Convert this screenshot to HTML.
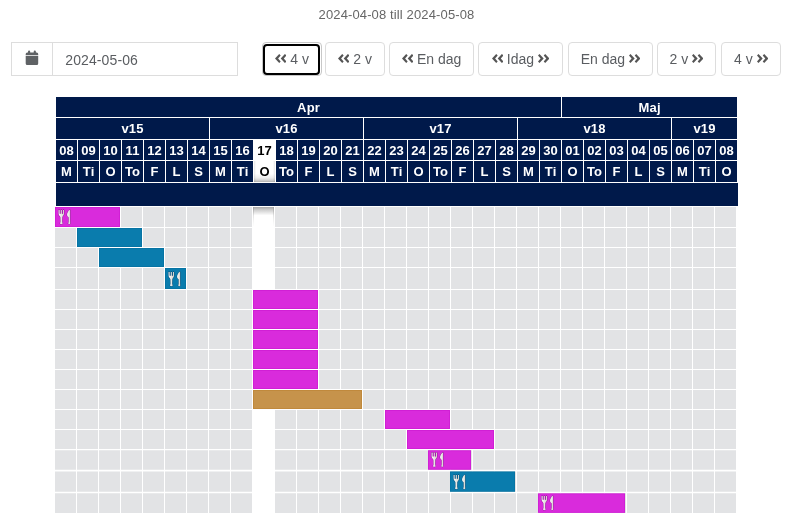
<!DOCTYPE html>
<html lang="sv"><head><meta charset="utf-8"><title>Kalender</title>
<style>
html,body{margin:0;padding:0;background:#fff;}
body{width:793px;height:528px;position:relative;overflow:hidden;font-family:"Liberation Sans",sans-serif;color:#555;}
.abs{position:absolute;}
#title{position:absolute;left:0;top:7px;width:793px;text-align:center;font-size:13px;line-height:16px;color:#666;letter-spacing:0.13px;}
.ig{position:absolute;left:11px;top:42px;width:227px;height:34px;box-sizing:border-box;border:1px solid #ddd;background:#fff;}
.ig .addon{position:absolute;left:0;top:0;width:40px;height:32px;border-right:1px solid #ddd;}
.ig .val{position:absolute;left:53.300px;top:1px;height:32px;line-height:32px;font-size:14px;color:#5a5d61;letter-spacing:0.1px;}
.btn{position:absolute;top:42px;height:34px;box-sizing:border-box;border:1px solid #ddd;border-radius:4px;background:#fff;font-size:14px;color:#5a5d61;line-height:32px;text-align:center;white-space:nowrap;}
.btn svg{display:inline-block;vertical-align:1px;}
.btn.focus{border-color:#c8c8c8;}
.btn.focus:after{content:"";position:absolute;left:0;top:0.500px;right:1px;bottom:0.500px;border:2px solid #000;border-radius:4px;}
.h{position:absolute;background:#00194a;color:#fff;font-weight:bold;font-size:13px;text-align:center;letter-spacing:0.200px;text-indent:0.200px;}
.h.today{background:#fff;color:#000;}
#body{position:absolute;left:0;top:200px;}

</style></head><body>
<div id="title">2024-04-08 till 2024-05-08</div>
<div class="ig"><div class="addon"><svg class="abs" style="left:13px;top:7px" width="14" height="16" viewBox="0 0 14 16"><path fill="#5f6265" d="M2.200 2.400 H3 V1.700 A1.100 1.100 0 0 1 5.200 1.700 V2.400 H8.700 V1.700 A1.100 1.100 0 0 1 10.900 1.700 V2.400 H11.700 A1.500 1.500 0 0 1 13.200 3.900 V5.100 H0.700 V3.900 A1.500 1.500 0 0 1 2.200 2.400 Z M0.700 5.800 H13.200 V13.400 A1.500 1.500 0 0 1 11.700 14.900 H2.200 A1.500 1.500 0 0 1 0.700 13.400 Z"/></svg></div><div class="val">2024-05-06</div></div>
<div class="btn focus" style="left:262px;width:60px"><svg width="11.400" height="9" viewBox="0 0 11.400 9"><path fill="#555" d="M0 4.500 L4.200 0 L5.700 1.500 L3.100 4.500 L5.700 7.500 L4.200 9 Z"/><path fill="#555" transform="translate(5.700 0)" d="M0 4.500 L4.200 0 L5.700 1.500 L3.100 4.500 L5.700 7.500 L4.200 9 Z"/></svg> 4 v</div>
<div class="btn" style="left:325px;width:60px"><svg width="11.400" height="9" viewBox="0 0 11.400 9"><path fill="#555" d="M0 4.500 L4.200 0 L5.700 1.500 L3.100 4.500 L5.700 7.500 L4.200 9 Z"/><path fill="#555" transform="translate(5.700 0)" d="M0 4.500 L4.200 0 L5.700 1.500 L3.100 4.500 L5.700 7.500 L4.200 9 Z"/></svg> 2 v</div>
<div class="btn" style="left:389px;width:85px"><svg width="11.400" height="9" viewBox="0 0 11.400 9"><path fill="#555" d="M0 4.500 L4.200 0 L5.700 1.500 L3.100 4.500 L5.700 7.500 L4.200 9 Z"/><path fill="#555" transform="translate(5.700 0)" d="M0 4.500 L4.200 0 L5.700 1.500 L3.100 4.500 L5.700 7.500 L4.200 9 Z"/></svg> En dag</div>
<div class="btn" style="left:478px;width:85px"><svg width="11.400" height="9" viewBox="0 0 11.400 9"><path fill="#555" d="M0 4.500 L4.200 0 L5.700 1.500 L3.100 4.500 L5.700 7.500 L4.200 9 Z"/><path fill="#555" transform="translate(5.700 0)" d="M0 4.500 L4.200 0 L5.700 1.500 L3.100 4.500 L5.700 7.500 L4.200 9 Z"/></svg> Idag <svg width="11.400" height="9" viewBox="0 0 11.400 9"><g transform="translate(11.400 0) scale(-1 1)"><path fill="#555" d="M0 4.500 L4.200 0 L5.700 1.500 L3.100 4.500 L5.700 7.500 L4.200 9 Z"/><path fill="#555" transform="translate(5.700 0)" d="M0 4.500 L4.200 0 L5.700 1.500 L3.100 4.500 L5.700 7.500 L4.200 9 Z"/></g></svg></div>
<div class="btn" style="left:568px;width:85px">En dag <svg width="11.400" height="9" viewBox="0 0 11.400 9"><g transform="translate(11.400 0) scale(-1 1)"><path fill="#555" d="M0 4.500 L4.200 0 L5.700 1.500 L3.100 4.500 L5.700 7.500 L4.200 9 Z"/><path fill="#555" transform="translate(5.700 0)" d="M0 4.500 L4.200 0 L5.700 1.500 L3.100 4.500 L5.700 7.500 L4.200 9 Z"/></g></svg></div>
<div class="btn" style="left:657px;width:59px">2 v <svg width="11.400" height="9" viewBox="0 0 11.400 9"><g transform="translate(11.400 0) scale(-1 1)"><path fill="#555" d="M0 4.500 L4.200 0 L5.700 1.500 L3.100 4.500 L5.700 7.500 L4.200 9 Z"/><path fill="#555" transform="translate(5.700 0)" d="M0 4.500 L4.200 0 L5.700 1.500 L3.100 4.500 L5.700 7.500 L4.200 9 Z"/></g></svg></div>
<div class="btn" style="left:721px;width:60px">4 v <svg width="11.400" height="9" viewBox="0 0 11.400 9"><g transform="translate(11.400 0) scale(-1 1)"><path fill="#555" d="M0 4.500 L4.200 0 L5.700 1.500 L3.100 4.500 L5.700 7.500 L4.200 9 Z"/><path fill="#555" transform="translate(5.700 0)" d="M0 4.500 L4.200 0 L5.700 1.500 L3.100 4.500 L5.700 7.500 L4.200 9 Z"/></g></svg></div>
<div class="h" style="left:56px;top:97px;width:505px;height:20px;line-height:22px">Apr</div>
<div class="h" style="left:562px;top:97px;width:175px;height:20px;line-height:22px">Maj</div>
<div class="h" style="left:56px;top:118px;width:153px;height:21px;line-height:21px">v15</div>
<div class="h" style="left:210px;top:118px;width:153px;height:21px;line-height:21px">v16</div>
<div class="h" style="left:364px;top:118px;width:153px;height:21px;line-height:21px">v17</div>
<div class="h" style="left:518px;top:118px;width:153px;height:21px;line-height:21px">v18</div>
<div class="h" style="left:672px;top:118px;width:65px;height:21px;line-height:21px">v19</div>
<div class="h" style="left:56px;top:140px;width:21px;height:20px;line-height:22px">08</div>
<div class="h" style="left:56px;top:161px;width:21px;height:21px;line-height:21px">M</div>
<div class="h" style="left:78px;top:140px;width:21px;height:20px;line-height:22px">09</div>
<div class="h" style="left:78px;top:161px;width:21px;height:21px;line-height:21px">Ti</div>
<div class="h" style="left:100px;top:140px;width:21px;height:20px;line-height:22px">10</div>
<div class="h" style="left:100px;top:161px;width:21px;height:21px;line-height:21px">O</div>
<div class="h" style="left:122px;top:140px;width:21px;height:20px;line-height:22px">11</div>
<div class="h" style="left:122px;top:161px;width:21px;height:21px;line-height:21px">To</div>
<div class="h" style="left:144px;top:140px;width:21px;height:20px;line-height:22px">12</div>
<div class="h" style="left:144px;top:161px;width:21px;height:21px;line-height:21px">F</div>
<div class="h" style="left:166px;top:140px;width:21px;height:20px;line-height:22px">13</div>
<div class="h" style="left:166px;top:161px;width:21px;height:21px;line-height:21px">L</div>
<div class="h" style="left:188px;top:140px;width:21px;height:20px;line-height:22px">14</div>
<div class="h" style="left:188px;top:161px;width:21px;height:21px;line-height:21px">S</div>
<div class="h" style="left:210px;top:140px;width:21px;height:20px;line-height:22px">15</div>
<div class="h" style="left:210px;top:161px;width:21px;height:21px;line-height:21px">M</div>
<div class="h" style="left:232px;top:140px;width:21px;height:20px;line-height:22px">16</div>
<div class="h" style="left:232px;top:161px;width:21px;height:21px;line-height:21px">Ti</div>
<div class="h today" style="left:253px;top:139px;width:23px;height:22px;line-height:24px">17</div>
<div class="h today" style="left:253px;top:161px;width:23px;height:21px;line-height:21px;background:linear-gradient(to right,rgba(0,0,0,0.100) 0,rgba(0,0,0,0) 2px,rgba(0,0,0,0) 19px,rgba(0,0,0,0.100) 21px) 1px 0/21px 100% no-repeat,linear-gradient(to bottom,#fff 0,#fff 60%,#ededed 80%,#d0d0d0 92%,#b0b0b0 100%)">O</div>
<div class="abs" style="left:253px;top:161px;width:1px;height:21px;background:#fff"></div><div class="abs" style="left:275px;top:161px;width:1px;height:21px;background:#fff"></div>
<div class="h" style="left:276px;top:140px;width:21px;height:20px;line-height:22px">18</div>
<div class="h" style="left:276px;top:161px;width:21px;height:21px;line-height:21px">To</div>
<div class="h" style="left:298px;top:140px;width:21px;height:20px;line-height:22px">19</div>
<div class="h" style="left:298px;top:161px;width:21px;height:21px;line-height:21px">F</div>
<div class="h" style="left:320px;top:140px;width:21px;height:20px;line-height:22px">20</div>
<div class="h" style="left:320px;top:161px;width:21px;height:21px;line-height:21px">L</div>
<div class="h" style="left:342px;top:140px;width:21px;height:20px;line-height:22px">21</div>
<div class="h" style="left:342px;top:161px;width:21px;height:21px;line-height:21px">S</div>
<div class="h" style="left:364px;top:140px;width:21px;height:20px;line-height:22px">22</div>
<div class="h" style="left:364px;top:161px;width:21px;height:21px;line-height:21px">M</div>
<div class="h" style="left:386px;top:140px;width:21px;height:20px;line-height:22px">23</div>
<div class="h" style="left:386px;top:161px;width:21px;height:21px;line-height:21px">Ti</div>
<div class="h" style="left:408px;top:140px;width:21px;height:20px;line-height:22px">24</div>
<div class="h" style="left:408px;top:161px;width:21px;height:21px;line-height:21px">O</div>
<div class="h" style="left:430px;top:140px;width:21px;height:20px;line-height:22px">25</div>
<div class="h" style="left:430px;top:161px;width:21px;height:21px;line-height:21px">To</div>
<div class="h" style="left:452px;top:140px;width:21px;height:20px;line-height:22px">26</div>
<div class="h" style="left:452px;top:161px;width:21px;height:21px;line-height:21px">F</div>
<div class="h" style="left:474px;top:140px;width:21px;height:20px;line-height:22px">27</div>
<div class="h" style="left:474px;top:161px;width:21px;height:21px;line-height:21px">L</div>
<div class="h" style="left:496px;top:140px;width:21px;height:20px;line-height:22px">28</div>
<div class="h" style="left:496px;top:161px;width:21px;height:21px;line-height:21px">S</div>
<div class="h" style="left:518px;top:140px;width:21px;height:20px;line-height:22px">29</div>
<div class="h" style="left:518px;top:161px;width:21px;height:21px;line-height:21px">M</div>
<div class="h" style="left:540px;top:140px;width:21px;height:20px;line-height:22px">30</div>
<div class="h" style="left:540px;top:161px;width:21px;height:21px;line-height:21px">Ti</div>
<div class="h" style="left:562px;top:140px;width:21px;height:20px;line-height:22px">01</div>
<div class="h" style="left:562px;top:161px;width:21px;height:21px;line-height:21px">O</div>
<div class="h" style="left:584px;top:140px;width:21px;height:20px;line-height:22px">02</div>
<div class="h" style="left:584px;top:161px;width:21px;height:21px;line-height:21px">To</div>
<div class="h" style="left:606px;top:140px;width:21px;height:20px;line-height:22px">03</div>
<div class="h" style="left:606px;top:161px;width:21px;height:21px;line-height:21px">F</div>
<div class="h" style="left:628px;top:140px;width:21px;height:20px;line-height:22px">04</div>
<div class="h" style="left:628px;top:161px;width:21px;height:21px;line-height:21px">L</div>
<div class="h" style="left:650px;top:140px;width:21px;height:20px;line-height:22px">05</div>
<div class="h" style="left:650px;top:161px;width:21px;height:21px;line-height:21px">S</div>
<div class="h" style="left:672px;top:140px;width:21px;height:20px;line-height:22px">06</div>
<div class="h" style="left:672px;top:161px;width:21px;height:21px;line-height:21px">M</div>
<div class="h" style="left:694px;top:140px;width:21px;height:20px;line-height:22px">07</div>
<div class="h" style="left:694px;top:161px;width:21px;height:21px;line-height:21px">Ti</div>
<div class="h" style="left:716px;top:140px;width:21px;height:20px;line-height:22px">08</div>
<div class="h" style="left:716px;top:161px;width:21px;height:21px;line-height:21px">O</div>
<div class="h" style="left:56px;top:183px;width:682px;height:23px"></div>
<svg id="body" width="793" height="328" viewBox="0 200 793 328">
<defs><linearGradient id="tg" x1="0" y1="0" x2="0" y2="1"><stop offset="0" stop-color="#a9a9a9"/><stop offset="0.150" stop-color="#cfcfcf"/><stop offset="0.420" stop-color="#fff"/></linearGradient>
<linearGradient id="ts" x1="0" y1="0" x2="0" y2="1"><stop offset="0" stop-color="#999" stop-opacity="0.600"/><stop offset="1" stop-color="#ccc" stop-opacity="0"/></linearGradient>
<linearGradient id="sv" x1="0" y1="0" x2="1" y2="0"><stop offset="0" stop-color="#ffffff"/><stop offset="1" stop-color="#d2d2ca"/></linearGradient>
<g id="fk"><g fill="url(#sv)" stroke="#1c0826" stroke-opacity="0.360" stroke-width="1" stroke-linejoin="round" paint-order="stroke"><path d="M1.600 0.900 h1 v3.900 h1.200 v-3.900 h1 v3.900 h1.200 v-3.900 h1 v3.700 c0 1.800 -1.200 2.400 -1.750 3.600 l-0.100 4.600 c0 0.600 0.500 1.200 0.500 1.800 c0 0.700 -2.600 0.700 -2.600 0 c0 -0.600 0.500 -1.200 0.500 -1.800 l-0.100 -4.600 c-0.550 -1.200 -1.850 -1.800 -1.850 -3.600 z"/><path d="M13.100 0.800 L13.100 12.800 c0 0.600 0.200 1.200 0.200 1.800 c0 0.700 -2 0.700 -2 0 c0 -0.600 0.400 -1.200 0.400 -1.800 L11.700 8.600 c-0.300 -0.900 -1.600 -1.200 -1.600 -2.600 c0 -1.800 1 -4 2.600 -5.200 z"/></g></g>
</defs>
<path fill="#e2e3e5" d="M55 207h21v20h-21zM77 207h21v20h-21zM99 207h21v20h-21zM121 207h21v20h-21zM143 207h21v20h-21zM165 207h21v20h-21zM187 207h21v20h-21zM209 207h21v20h-21zM231 207h21v20h-21zM275 207h21v20h-21zM297 207h21v20h-21zM319 207h21v20h-21zM341 207h21v20h-21zM363 207h21v20h-21zM385 207h21v20h-21zM407 207h21v20h-21zM429 207h21v20h-21zM451 207h21v20h-21zM473 207h21v20h-21zM495 207h21v20h-21zM517 207h21v20h-21zM539 207h21v20h-21zM561 207h21v20h-21zM583 207h21v20h-21zM605 207h21v20h-21zM627 207h21v20h-21zM649 207h21v20h-21zM671 207h21v20h-21zM693 207h21v20h-21zM715 207h21v20h-21z"/>
<path fill="#e2e3e5" d="M55 228h21v19h-21zM77 228h21v19h-21zM99 228h21v19h-21zM121 228h21v19h-21zM143 228h21v19h-21zM165 228h21v19h-21zM187 228h21v19h-21zM209 228h21v19h-21zM231 228h21v19h-21zM275 228h21v19h-21zM297 228h21v19h-21zM319 228h21v19h-21zM341 228h21v19h-21zM363 228h21v19h-21zM385 228h21v19h-21zM407 228h21v19h-21zM429 228h21v19h-21zM451 228h21v19h-21zM473 228h21v19h-21zM495 228h21v19h-21zM517 228h21v19h-21zM539 228h21v19h-21zM561 228h21v19h-21zM583 228h21v19h-21zM605 228h21v19h-21zM627 228h21v19h-21zM649 228h21v19h-21zM671 228h21v19h-21zM693 228h21v19h-21zM715 228h21v19h-21z"/>
<path fill="#e2e3e5" d="M55 248h21v19h-21zM77 248h21v19h-21zM99 248h21v19h-21zM121 248h21v19h-21zM143 248h21v19h-21zM165 248h21v19h-21zM187 248h21v19h-21zM209 248h21v19h-21zM231 248h21v19h-21zM275 248h21v19h-21zM297 248h21v19h-21zM319 248h21v19h-21zM341 248h21v19h-21zM363 248h21v19h-21zM385 248h21v19h-21zM407 248h21v19h-21zM429 248h21v19h-21zM451 248h21v19h-21zM473 248h21v19h-21zM495 248h21v19h-21zM517 248h21v19h-21zM539 248h21v19h-21zM561 248h21v19h-21zM583 248h21v19h-21zM605 248h21v19h-21zM627 248h21v19h-21zM649 248h21v19h-21zM671 248h21v19h-21zM693 248h21v19h-21zM715 248h21v19h-21z"/>
<path fill="#e2e3e5" d="M55 268h21v21h-21zM77 268h21v21h-21zM99 268h21v21h-21zM121 268h21v21h-21zM143 268h21v21h-21zM165 268h21v21h-21zM187 268h21v21h-21zM209 268h21v21h-21zM231 268h21v21h-21zM275 268h21v21h-21zM297 268h21v21h-21zM319 268h21v21h-21zM341 268h21v21h-21zM363 268h21v21h-21zM385 268h21v21h-21zM407 268h21v21h-21zM429 268h21v21h-21zM451 268h21v21h-21zM473 268h21v21h-21zM495 268h21v21h-21zM517 268h21v21h-21zM539 268h21v21h-21zM561 268h21v21h-21zM583 268h21v21h-21zM605 268h21v21h-21zM627 268h21v21h-21zM649 268h21v21h-21zM671 268h21v21h-21zM693 268h21v21h-21zM715 268h21v21h-21z"/>
<path fill="#e2e3e5" d="M55 290h21v19h-21zM77 290h21v19h-21zM99 290h21v19h-21zM121 290h21v19h-21zM143 290h21v19h-21zM165 290h21v19h-21zM187 290h21v19h-21zM209 290h21v19h-21zM231 290h21v19h-21zM275 290h21v19h-21zM297 290h21v19h-21zM319 290h21v19h-21zM341 290h21v19h-21zM363 290h21v19h-21zM385 290h21v19h-21zM407 290h21v19h-21zM429 290h21v19h-21zM451 290h21v19h-21zM473 290h21v19h-21zM495 290h21v19h-21zM517 290h21v19h-21zM539 290h21v19h-21zM561 290h21v19h-21zM583 290h21v19h-21zM605 290h21v19h-21zM627 290h21v19h-21zM649 290h21v19h-21zM671 290h21v19h-21zM693 290h21v19h-21zM715 290h21v19h-21z"/>
<path fill="#e2e3e5" d="M55 310h21v19h-21zM77 310h21v19h-21zM99 310h21v19h-21zM121 310h21v19h-21zM143 310h21v19h-21zM165 310h21v19h-21zM187 310h21v19h-21zM209 310h21v19h-21zM231 310h21v19h-21zM275 310h21v19h-21zM297 310h21v19h-21zM319 310h21v19h-21zM341 310h21v19h-21zM363 310h21v19h-21zM385 310h21v19h-21zM407 310h21v19h-21zM429 310h21v19h-21zM451 310h21v19h-21zM473 310h21v19h-21zM495 310h21v19h-21zM517 310h21v19h-21zM539 310h21v19h-21zM561 310h21v19h-21zM583 310h21v19h-21zM605 310h21v19h-21zM627 310h21v19h-21zM649 310h21v19h-21zM671 310h21v19h-21zM693 310h21v19h-21zM715 310h21v19h-21z"/>
<path fill="#e2e3e5" d="M55 330h21v19h-21zM77 330h21v19h-21zM99 330h21v19h-21zM121 330h21v19h-21zM143 330h21v19h-21zM165 330h21v19h-21zM187 330h21v19h-21zM209 330h21v19h-21zM231 330h21v19h-21zM275 330h21v19h-21zM297 330h21v19h-21zM319 330h21v19h-21zM341 330h21v19h-21zM363 330h21v19h-21zM385 330h21v19h-21zM407 330h21v19h-21zM429 330h21v19h-21zM451 330h21v19h-21zM473 330h21v19h-21zM495 330h21v19h-21zM517 330h21v19h-21zM539 330h21v19h-21zM561 330h21v19h-21zM583 330h21v19h-21zM605 330h21v19h-21zM627 330h21v19h-21zM649 330h21v19h-21zM671 330h21v19h-21zM693 330h21v19h-21zM715 330h21v19h-21z"/>
<path fill="#e2e3e5" d="M55 350h21v19h-21zM77 350h21v19h-21zM99 350h21v19h-21zM121 350h21v19h-21zM143 350h21v19h-21zM165 350h21v19h-21zM187 350h21v19h-21zM209 350h21v19h-21zM231 350h21v19h-21zM275 350h21v19h-21zM297 350h21v19h-21zM319 350h21v19h-21zM341 350h21v19h-21zM363 350h21v19h-21zM385 350h21v19h-21zM407 350h21v19h-21zM429 350h21v19h-21zM451 350h21v19h-21zM473 350h21v19h-21zM495 350h21v19h-21zM517 350h21v19h-21zM539 350h21v19h-21zM561 350h21v19h-21zM583 350h21v19h-21zM605 350h21v19h-21zM627 350h21v19h-21zM649 350h21v19h-21zM671 350h21v19h-21zM693 350h21v19h-21zM715 350h21v19h-21z"/>
<path fill="#e2e3e5" d="M55 370h21v19h-21zM77 370h21v19h-21zM99 370h21v19h-21zM121 370h21v19h-21zM143 370h21v19h-21zM165 370h21v19h-21zM187 370h21v19h-21zM209 370h21v19h-21zM231 370h21v19h-21zM275 370h21v19h-21zM297 370h21v19h-21zM319 370h21v19h-21zM341 370h21v19h-21zM363 370h21v19h-21zM385 370h21v19h-21zM407 370h21v19h-21zM429 370h21v19h-21zM451 370h21v19h-21zM473 370h21v19h-21zM495 370h21v19h-21zM517 370h21v19h-21zM539 370h21v19h-21zM561 370h21v19h-21zM583 370h21v19h-21zM605 370h21v19h-21zM627 370h21v19h-21zM649 370h21v19h-21zM671 370h21v19h-21zM693 370h21v19h-21zM715 370h21v19h-21z"/>
<path fill="#e2e3e5" d="M55 390h21v19h-21zM77 390h21v19h-21zM99 390h21v19h-21zM121 390h21v19h-21zM143 390h21v19h-21zM165 390h21v19h-21zM187 390h21v19h-21zM209 390h21v19h-21zM231 390h21v19h-21zM275 390h21v19h-21zM297 390h21v19h-21zM319 390h21v19h-21zM341 390h21v19h-21zM363 390h21v19h-21zM385 390h21v19h-21zM407 390h21v19h-21zM429 390h21v19h-21zM451 390h21v19h-21zM473 390h21v19h-21zM495 390h21v19h-21zM517 390h21v19h-21zM539 390h21v19h-21zM561 390h21v19h-21zM583 390h21v19h-21zM605 390h21v19h-21zM627 390h21v19h-21zM649 390h21v19h-21zM671 390h21v19h-21zM693 390h21v19h-21zM715 390h21v19h-21z"/>
<path fill="#e2e3e5" d="M55 410h21v19h-21zM77 410h21v19h-21zM99 410h21v19h-21zM121 410h21v19h-21zM143 410h21v19h-21zM165 410h21v19h-21zM187 410h21v19h-21zM209 410h21v19h-21zM231 410h21v19h-21zM275 410h21v19h-21zM297 410h21v19h-21zM319 410h21v19h-21zM341 410h21v19h-21zM363 410h21v19h-21zM385 410h21v19h-21zM407 410h21v19h-21zM429 410h21v19h-21zM451 410h21v19h-21zM473 410h21v19h-21zM495 410h21v19h-21zM517 410h21v19h-21zM539 410h21v19h-21zM561 410h21v19h-21zM583 410h21v19h-21zM605 410h21v19h-21zM627 410h21v19h-21zM649 410h21v19h-21zM671 410h21v19h-21zM693 410h21v19h-21zM715 410h21v19h-21z"/>
<path fill="#e2e3e5" d="M55 430h21v19h-21zM77 430h21v19h-21zM99 430h21v19h-21zM121 430h21v19h-21zM143 430h21v19h-21zM165 430h21v19h-21zM187 430h21v19h-21zM209 430h21v19h-21zM231 430h21v19h-21zM275 430h21v19h-21zM297 430h21v19h-21zM319 430h21v19h-21zM341 430h21v19h-21zM363 430h21v19h-21zM385 430h21v19h-21zM407 430h21v19h-21zM429 430h21v19h-21zM451 430h21v19h-21zM473 430h21v19h-21zM495 430h21v19h-21zM517 430h21v19h-21zM539 430h21v19h-21zM561 430h21v19h-21zM583 430h21v19h-21zM605 430h21v19h-21zM627 430h21v19h-21zM649 430h21v19h-21zM671 430h21v19h-21zM693 430h21v19h-21zM715 430h21v19h-21z"/>
<path fill="#e2e3e5" d="M55 450.2h21v19.6h-21zM77 450.2h21v19.6h-21zM99 450.2h21v19.6h-21zM121 450.2h21v19.6h-21zM143 450.2h21v19.6h-21zM165 450.2h21v19.6h-21zM187 450.2h21v19.6h-21zM209 450.2h21v19.6h-21zM231 450.2h21v19.6h-21zM275 450.2h21v19.6h-21zM297 450.2h21v19.6h-21zM319 450.2h21v19.6h-21zM341 450.2h21v19.6h-21zM363 450.2h21v19.6h-21zM385 450.2h21v19.6h-21zM407 450.2h21v19.6h-21zM429 450.2h21v19.6h-21zM451 450.2h21v19.6h-21zM473 450.2h21v19.6h-21zM495 450.2h21v19.6h-21zM517 450.2h21v19.6h-21zM539 450.2h21v19.6h-21zM561 450.2h21v19.6h-21zM583 450.2h21v19.6h-21zM605 450.2h21v19.6h-21zM627 450.2h21v19.6h-21zM649 450.2h21v19.6h-21zM671 450.2h21v19.6h-21zM693 450.2h21v19.6h-21zM715 450.2h21v19.6h-21z"/>
<path fill="#e2e3e5" d="M55 471.4h21v20.4h-21zM77 471.4h21v20.4h-21zM99 471.4h21v20.4h-21zM121 471.4h21v20.4h-21zM143 471.4h21v20.4h-21zM165 471.4h21v20.4h-21zM187 471.4h21v20.4h-21zM209 471.4h21v20.4h-21zM231 471.4h21v20.4h-21zM275 471.4h21v20.4h-21zM297 471.4h21v20.4h-21zM319 471.4h21v20.4h-21zM341 471.4h21v20.4h-21zM363 471.4h21v20.4h-21zM385 471.4h21v20.4h-21zM407 471.4h21v20.4h-21zM429 471.4h21v20.4h-21zM451 471.4h21v20.4h-21zM473 471.4h21v20.4h-21zM495 471.4h21v20.4h-21zM517 471.4h21v20.4h-21zM539 471.4h21v20.4h-21zM561 471.4h21v20.4h-21zM583 471.4h21v20.4h-21zM605 471.4h21v20.4h-21zM627 471.4h21v20.4h-21zM649 471.4h21v20.4h-21zM671 471.4h21v20.4h-21zM693 471.4h21v20.4h-21zM715 471.4h21v20.4h-21z"/>
<path fill="#e2e3e5" d="M55 493.3h21v19.6h-21zM77 493.3h21v19.6h-21zM99 493.3h21v19.6h-21zM121 493.3h21v19.6h-21zM143 493.3h21v19.6h-21zM165 493.3h21v19.6h-21zM187 493.3h21v19.6h-21zM209 493.3h21v19.6h-21zM231 493.3h21v19.6h-21zM275 493.3h21v19.6h-21zM297 493.3h21v19.6h-21zM319 493.3h21v19.6h-21zM341 493.3h21v19.6h-21zM363 493.3h21v19.6h-21zM385 493.3h21v19.6h-21zM407 493.3h21v19.6h-21zM429 493.3h21v19.6h-21zM451 493.3h21v19.6h-21zM473 493.3h21v19.6h-21zM495 493.3h21v19.6h-21zM517 493.3h21v19.6h-21zM539 493.3h21v19.6h-21zM561 493.3h21v19.6h-21zM583 493.3h21v19.6h-21zM605 493.3h21v19.6h-21zM627 493.3h21v19.6h-21zM649 493.3h21v19.6h-21zM671 493.3h21v19.6h-21zM693 493.3h21v19.6h-21zM715 493.3h21v19.6h-21z"/>
<rect x="253" y="207" width="21" height="20" fill="url(#tg)"/>
<rect x="253" y="207" width="1" height="20" fill="url(#ts)"/><rect x="273" y="207" width="1" height="20" fill="url(#ts)"/>
<rect x="55" y="207" width="65" height="20" fill="#d11fd5"/>
<rect x="56" y="208" width="63" height="18" fill="#d92bdc"/>
<use href="#fk" x="57" y="209"/>
<rect x="77" y="228" width="65" height="19" fill="#0774a4"/>
<rect x="78" y="229" width="63" height="17" fill="#0a7cad"/>
<rect x="99" y="248" width="65" height="19" fill="#0774a4"/>
<rect x="100" y="249" width="63" height="17" fill="#0a7cad"/>
<rect x="165" y="268" width="21" height="21" fill="#0774a4"/>
<rect x="166" y="269" width="19" height="19" fill="#0a7cad"/>
<use href="#fk" x="167" y="271"/>
<rect x="253" y="290" width="65" height="19" fill="#d11fd5"/>
<rect x="254" y="291" width="63" height="17" fill="#d92bdc"/>
<rect x="253" y="310" width="65" height="19" fill="#d11fd5"/>
<rect x="254" y="311" width="63" height="17" fill="#d92bdc"/>
<rect x="253" y="330" width="65" height="19" fill="#d11fd5"/>
<rect x="254" y="331" width="63" height="17" fill="#d92bdc"/>
<rect x="253" y="350" width="65" height="19" fill="#d11fd5"/>
<rect x="254" y="351" width="63" height="17" fill="#d92bdc"/>
<rect x="253" y="370" width="65" height="19" fill="#d11fd5"/>
<rect x="254" y="371" width="63" height="17" fill="#d92bdc"/>
<rect x="253" y="390" width="109" height="19" fill="#c0893c"/>
<rect x="254" y="391" width="107" height="17" fill="#c6934b"/>
<rect x="385" y="410" width="65" height="19" fill="#d11fd5"/>
<rect x="386" y="411" width="63" height="17" fill="#d92bdc"/>
<rect x="407" y="430" width="87" height="19" fill="#d11fd5"/>
<rect x="408" y="431" width="85" height="17" fill="#d92bdc"/>
<rect x="428" y="450.2" width="43" height="19.6" fill="#d11fd5"/>
<rect x="429" y="451.2" width="41" height="17.6" fill="#d92bdc"/>
<use href="#fk" x="430" y="451.6"/>
<rect x="450" y="471.4" width="65" height="20.4" fill="#0774a4"/>
<rect x="451" y="472.4" width="63" height="18.4" fill="#0a7cad"/>
<use href="#fk" x="452" y="474"/>
<rect x="538" y="493.3" width="87" height="19.6" fill="#d11fd5"/>
<rect x="539" y="494.3" width="85" height="17.6" fill="#d92bdc"/>
<use href="#fk" x="540" y="495"/>
</svg>
</body></html>
